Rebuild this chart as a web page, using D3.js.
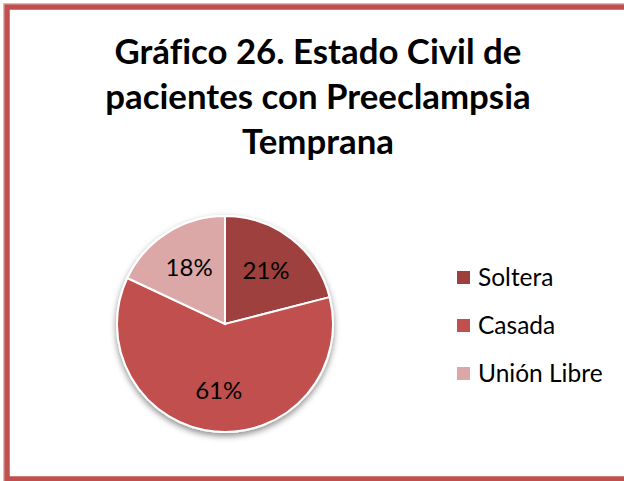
<!DOCTYPE html>
<html>
<head>
<meta charset="utf-8">
<script src="https://cdn.jsdelivr.net/npm/d3@7"></script>
<style>
  body { margin: 0; background: #fff; }
  text { font-family: Lato, "Noto Sans", sans-serif; font-variant-ligatures: none; }
</style>
</head>
<body>
<div id="chart"></div>
<script>
const titleLines = ["Gráfico 26. Estado Civil de", "pacientes con Preeclampsia", "Temprana"];
const categories = ["Soltera", "Casada", "Unión Libre"];
const values = [21, 61, 18];
const colors = ["#9e3f3d", "#c0504d", "#dba8a7"];

const width = 624, height = 481;
const cx = 225, cy = 324, radius = 108;

const svg = d3.select("#chart").append("svg")
    .attr("width", width)
    .attr("height", height);

svg.append("rect").attr("width", width).attr("height", height).attr("fill", "#fff");

const defs = svg.append("defs");
const shadow = defs.append("filter").attr("id", "shadow")
    .attr("x", "-20%").attr("y", "-20%").attr("width", "140%").attr("height", "140%");
shadow.append("feDropShadow")
    .attr("dx", 0).attr("dy", 3)
    .attr("stdDeviation", 3)
    .attr("flood-color", "#000")
    .attr("flood-opacity", 0.45);

// outer frame
svg.append("rect")
    .attr("x", 3.5).attr("y", 3.5)
    .attr("width", width + 10).attr("height", 478)
    .attr("fill", "none")
    .attr("stroke", "#e8b4b3")
    .attr("stroke-width", 1);
svg.append("rect")
    .attr("x", 7).attr("y", 7)
    .attr("width", width + 10).attr("height", 472)
    .attr("fill", "none")
    .attr("stroke", "#c0504d")
    .attr("stroke-width", 5.5);

// title
svg.append("g")
    .selectAll("text")
    .data(titleLines)
    .join("text")
    .attr("x", 318)
    .attr("y", (d, i) => 64 + i * 45)
    .attr("text-anchor", "middle")
    .attr("font-weight", "bold")
    .attr("font-size", 34.8)
    .attr("fill", "#000")
    .text(d => d);

// pie
const pie = d3.pie().sort(null).value(d => d)(values);
const arc = d3.arc().innerRadius(0).outerRadius(radius);
const labelArc = d3.arc().innerRadius(radius * 0.62).outerRadius(radius * 0.62);

const pieG = svg.append("g").attr("transform", `translate(${cx},${cy})`);

pieG.append("g")
    .attr("filter", "url(#shadow)")
    .selectAll("path")
    .data(pie)
    .join("path")
    .attr("d", arc)
    .attr("fill", (d, i) => colors[i])
    .attr("stroke", "#fff")
    .attr("stroke-width", 2);

pieG.append("g")
    .selectAll("text")
    .data(pie)
    .join("text")
    .attr("transform", d => `translate(${labelArc.centroid(d)})`)
    .attr("text-anchor", "middle")
    .attr("dy", "0.35em")
    .attr("font-size", 24)
    .attr("fill", "#000")
    .text(d => d.data + "%");

// legend
const legend = svg.append("g")
    .selectAll("g")
    .data(categories)
    .join("g")
    .attr("transform", (d, i) => `translate(457,${277 + i * 48})`);

legend.append("rect")
    .attr("x", 0).attr("y", -6)
    .attr("width", 13).attr("height", 13)
    .attr("fill", (d, i) => colors[i]);

legend.append("text")
    .attr("x", 21)
    .attr("dy", "0.35em")
    .attr("font-size", 24.5)
    .attr("fill", "#000")
    .text(d => d);
</script>
</body>
</html>
